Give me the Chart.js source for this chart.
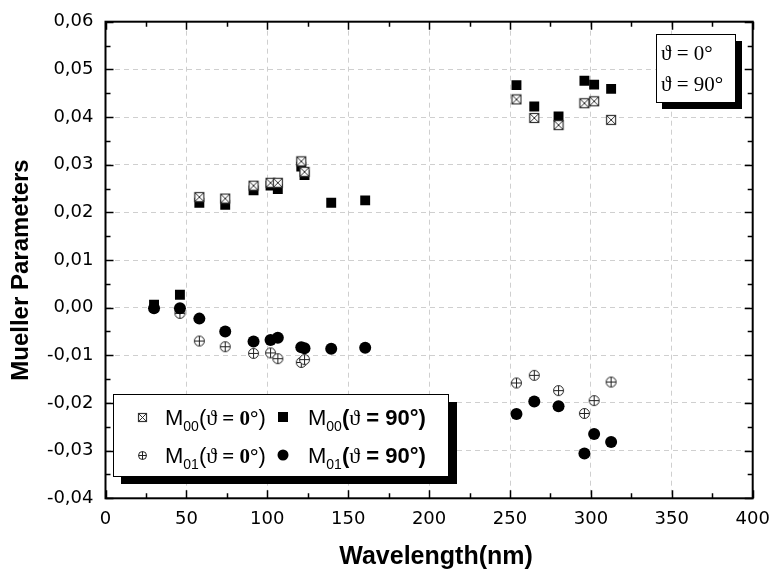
<!DOCTYPE html>
<html>
<head>
<meta charset="utf-8">
<script src="https://cdn.jsdelivr.net/npm/chart.js@4.4.1/dist/chart.umd.min.js"></script>
<style>
  html, body { margin: 0; padding: 0; background: #fff; }
  canvas { display: block; }
</style>
</head>
<body>
<canvas id="myChart" width="773" height="572" style="width:773px;height:572px"></canvas>
<script>
// wavelengths (nm) shared by all series, null = point not shown
const wavelengths = [30, 46, 58, 74, 91.5, 102, 106.5, 121, 123, 139.5, 160.5, 254, 265, 280, 296, 302, 312.5];
const m00Theta0  = [null, null, 0.0232, 0.0229, 0.0256, 0.0262, 0.0262, 0.0307, 0.0285, null, null, 0.0437, 0.0398, 0.0383, 0.0429, 0.0433, 0.0394];
const m00Theta90 = [0.0006, 0.0027, 0.0220, 0.0216, 0.0246, 0.0256, 0.0249, 0.0296, 0.0278, 0.0220, 0.0225, 0.0467, 0.0422, 0.0401, 0.0476, 0.0468, 0.0459];
const m01Theta0  = [null, -0.0012, -0.0070, -0.0082, -0.0096, -0.0095, -0.0107, -0.0115, -0.0109, null, null, -0.0158, -0.0142, -0.0174, -0.0222, -0.0195, -0.0156];
const m01Theta90 = [-0.0001, -0.0001, -0.0023, -0.0050, -0.0071, -0.0068, -0.0063, -0.0083, -0.0085, -0.0086, -0.0084, -0.0223, -0.0197, -0.0207, -0.0306, -0.0265, -0.0282];

const xTicks = [0, 50, 100, 150, 200, 250, 300, 350, 400];
const yTicks = [-0.04, -0.03, -0.02, -0.01, 0, 0.01, 0.02, 0.03, 0.04, 0.05, 0.06];

const SANS = '"Liberation Sans", Arial, sans-serif';
const SERIF = '"Liberation Serif", "Times New Roman", serif';

function toPoints(ys) {
    return wavelengths.map((x, i) => ({x: x, y: ys[i]})).filter(p => p.y !== null);
}

// open square with an X
function crossSquare(size) {
    const c = document.createElement('canvas');
    c.width = size + 2; c.height = size + 2;
    const g = c.getContext('2d');
    g.fillStyle = '#fff';
    g.fillRect(1, 1, size, size);
    g.strokeStyle = '#333';
    g.lineWidth = 1.2;
    g.strokeRect(1.5, 1.5, size - 1, size - 1);
    g.beginPath();
    g.moveTo(2, 2); g.lineTo(size, size);
    g.moveTo(size, 2); g.lineTo(2, size);
    g.lineWidth = 1;
    g.stroke();
    return c;
}

// open circle with a +
function crossCircle(size) {
    const c = document.createElement('canvas');
    c.width = size + 2; c.height = size + 2;
    const g = c.getContext('2d');
    const m = (size + 2) / 2, r = size / 2 - 0.5;
    g.fillStyle = '#fff';
    g.beginPath(); g.arc(m, m, r, 0, Math.PI * 2); g.fill();
    g.strokeStyle = '#222';
    g.lineWidth = 1;
    g.stroke();
    g.beginPath();
    g.moveTo(m - r, m); g.lineTo(m + r, m);
    g.moveTo(m, m - r); g.lineTo(m, m + r);
    g.stroke();
    return c;
}

const sqMark = crossSquare(10);
const ciMark = crossCircle(11);

// frame with inward major/minor ticks, plus the two legend boxes
const frameTicks = {
    id: 'frameTicks',
    afterDatasetsDraw(chart) {
        const {ctx, chartArea: a, scales: {x, y}} = chart;
        ctx.save();
        ctx.strokeStyle = '#000';
        ctx.lineWidth = 1.5;
        ctx.beginPath();
        for (let v = 0; v <= 400; v += 25) {
            const px = Math.round(x.getPixelForValue(v)) + 0.5;
            const len = v % 50 === 0 ? 8 : 5;
            ctx.moveTo(px, a.bottom); ctx.lineTo(px, a.bottom - len);
            ctx.moveTo(px, a.top); ctx.lineTo(px, a.top + len);
        }
        for (let k = -8; k <= 12; k++) {
            const py = Math.round(y.getPixelForValue(k * 0.005)) + 0.5;
            const len = k % 2 === 0 ? 8 : 5;
            ctx.moveTo(a.left, py); ctx.lineTo(a.left + len, py);
            ctx.moveTo(a.right, py); ctx.lineTo(a.right - len, py);
        }
        ctx.stroke();
        ctx.lineWidth = 2;
        ctx.strokeRect(a.left, a.top, a.right - a.left, a.bottom - a.top);
        ctx.restore();
    },
    afterDraw(chart) {
        const ctx = chart.ctx;
        ctx.save();
        // main legend box
        ctx.fillStyle = '#000';
        ctx.fillRect(121, 402, 336, 82);
        ctx.fillStyle = '#fff';
        ctx.fillRect(113, 394, 335, 82);
        ctx.strokeStyle = '#000';
        ctx.lineWidth = 1;
        ctx.strokeRect(113.5, 394.5, 335, 82);

        const rows = [417, 455];
        ctx.drawImage(crossSquare(9), 137, rows[0] - 5);
        ctx.drawImage(crossCircle(9), 137, rows[1] - 5);
        ctx.fillStyle = '#000';
        ctx.fillRect(278, rows[0] - 5, 10, 10);
        ctx.beginPath(); ctx.arc(283, rows[1], 5.5, 0, Math.PI * 2); ctx.fill();

        function entry(x0, yc, sub, label, bold) {
            ctx.textBaseline = 'alphabetic';
            ctx.textAlign = 'left';
            const base = yc + 8;
            ctx.font = '22px ' + SANS;
            ctx.fillText('M', x0, base);
            let cx = x0 + ctx.measureText('M').width;
            ctx.font = '14px ' + SANS;
            ctx.fillText(sub, cx, base + 6);
            cx += ctx.measureText(sub).width;
            ctx.font = (bold ? 'bold ' : '') + '22px ' + SANS;
            ctx.fillText('(', cx, base);
            cx += ctx.measureText('(').width;
            ctx.font = '22px ' + SERIF;
            ctx.fillText('\u03D1', cx, base);
            cx += ctx.measureText('\u03D1').width;
            ctx.font = bold ? 'bold 22px ' + SANS : 'bold 21px ' + SERIF;
            ctx.fillText(label, cx, base);
            cx += ctx.measureText(label).width;
            ctx.font = (bold ? 'bold ' : '') + '22px ' + SANS;
            ctx.fillText(')', cx, base);
        }
        entry(165, rows[0], '00', ' = 0°', false);
        entry(308, rows[0], '00', ' = 90°', true);
        entry(165, rows[1], '01', ' = 0°', false);
        entry(308, rows[1], '01', ' = 90°', true);

        // angle box, top right
        ctx.fillStyle = '#000';
        ctx.fillRect(662, 41, 80, 68);
        ctx.fillStyle = '#fff';
        ctx.fillRect(656, 34, 80, 68);
        ctx.strokeRect(656.5, 34.5, 79, 68);
        ctx.fillStyle = '#000';
        ctx.font = '21px ' + SERIF;
        ctx.textBaseline = 'middle';
        ctx.fillText('\u03D1 = 0°', 661, 54);
        ctx.fillText('\u03D1 = 90°', 661, 85);
        ctx.restore();
    }
};

const ctx = document.getElementById('myChart').getContext('2d');
const myChart = new Chart(ctx, {
    type: 'scatter',
    data: {
        datasets: [
            {
                label: 'M00 (θ = 0°)',
                data: toPoints(m00Theta0),
                pointStyle: sqMark,
                pointRadius: 6
            },
            {
                label: 'M01 (θ = 90°)',
                data: toPoints(m01Theta90),
                pointStyle: 'circle',
                pointRadius: 6,
                backgroundColor: '#000',
                borderColor: '#000',
                borderWidth: 0
            },
            {
                label: 'M00 (θ = 90°)',
                data: toPoints(m00Theta90),
                pointStyle: 'rect',
                pointRadius: 7,
                backgroundColor: '#000',
                borderColor: '#000',
                borderWidth: 0
            },
            {
                label: 'M01 (θ = 0°)',
                data: toPoints(m01Theta0),
                pointStyle: ciMark,
                pointRadius: 6
            }
        ]
    },
    options: {
        responsive: false,
        animation: false,
        devicePixelRatio: 1,
        layout: { padding: { top: 21.7, right: 20.3, left: 0, bottom: 0 } },
        plugins: {
            legend: { display: false },
            tooltip: { enabled: false }
        },
        scales: {
            x: {
                type: 'linear',
                min: 0,
                max: 400,
                afterFit: (scale) => {
                    scale.height = 73.7;
                    scale.paddingLeft = 0;
                    scale.paddingRight = 10;
                },
                afterBuildTicks: (scale) => { scale.ticks = xTicks.map(v => ({value: v})); },
                grid: { color: '#cfcfcf', lineWidth: 1, drawTicks: false },
                border: { display: false, dash: [5, 4] },
                ticks: {
                    padding: 10,
                    color: '#000',
                    font: { family: '"DejaVu Sans", sans-serif', size: 18 },
                    maxRotation: 0
                },
                title: {
                    display: true,
                    text: '  Wavelength(nm)',
                    color: '#000',
                    font: { family: SANS, size: 25, weight: 'bold' },
                    padding: { top: 0, bottom: 0 }
                }
            },
            y: {
                type: 'linear',
                min: -0.04,
                max: 0.06,
                afterFit: (scale) => {
                    scale.width = 105.5;
                    scale.paddingTop = 10;
                    scale.paddingBottom = 0;
                },
                afterBuildTicks: (scale) => { scale.ticks = yTicks.map(v => ({value: v})); },
                grid: { color: '#cfcfcf', lineWidth: 1, drawTicks: false },
                border: { display: false, dash: [5, 4] },
                ticks: {
                    padding: 12,
                    color: '#000',
                    font: { family: '"DejaVu Sans", sans-serif', size: 18 },
                    callback: (v) => (Math.abs(v) < 1e-9 ? 0 : v).toFixed(2).replace('.', ',')
                },
                title: {
                    display: true,
                    text: 'Mueller Parameters   ',
                    color: '#000',
                    font: { family: SANS, size: 24, weight: 'bold' },
                    padding: { top: 7, bottom: 0 }
                }
            }
        }
    },
    plugins: [frameTicks]
});
</script>
</body>
</html>
